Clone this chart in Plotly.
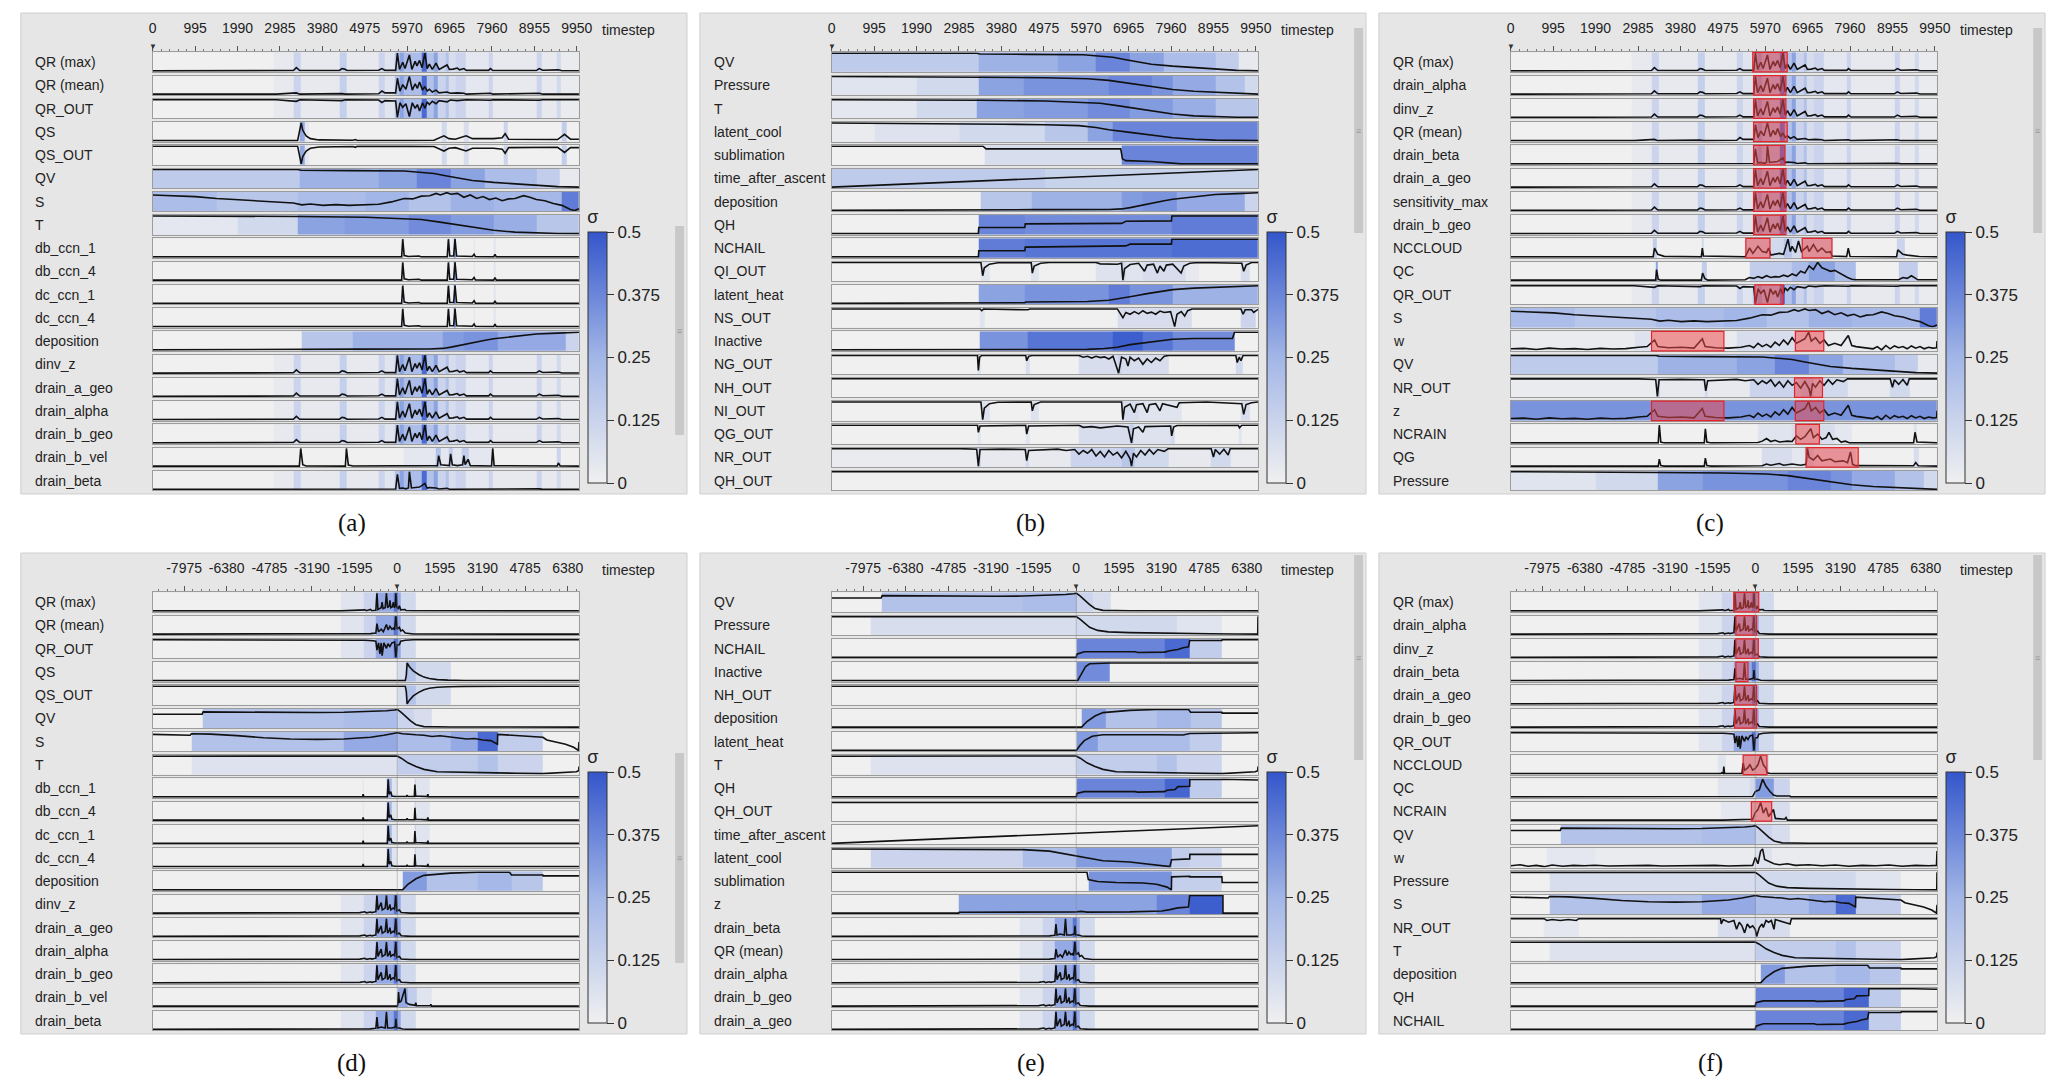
import plotly.graph_objects as go

W, H = 2067, 1091

# ---- time axes --------------------------------------------------------------
TOP_RANGE = [0, 10000]
TOP_TICKS = [0, 995, 1990, 2985, 3980, 4975, 5970, 6965, 7960, 8955, 9950]
AL_RANGE = [-9150, 6800]
AL_TICKS = [-7975, -6380, -4785, -3190, -1595, 0, 1595, 3190, 4785, 6380]

# ---- trajectories, time 0..10000 (line: (t, value), sigma: (start, sigma)) ---
QR_MAX_LINE = [(0,.02),(2850,.02),(2964,.05),(3300,.04),(3370,.2),(3450,.04),(4380,.05),(4441,.15),(4500,.12),(4560,.04),
               (5300,.06),(5377,.15),(5450,.05),(5700,.05),(5741,1.0),(5790,.1),(5866,.5),(5920,.15),(6022,.9),(6080,.1),
               (6157,.55),(6200,.3),(6261,.6),(6320,.2),(6386,1.0),(6440,.15),(6490,.4),(6560,.1),(6646,.45),(6720,.1),
               (6906,.35),(6960,.1),(7050,.12),(7145,.18),(7200,.08),(7301,.15),(7360,.05),(7880,.05),(7925,.15),(7980,.04),
               (9000,.04),(9069,.15),(9150,.06),(9516,.08),(9600,.03),(10000,.03)]
QR_MEAN_LINE = [(0,.03),(2900,.03),(3370,.1),(3450,.03),(4441,.06),(4520,.03),(5300,.05),(5377,.2),(5450,.1),(5700,.1),
                (5741,.9),(5800,.2),(5866,.55),(5940,.3),(6022,1.0),(6090,.25),(6157,.6),(6210,.35),(6261,.7),(6330,.25),
                (6386,.45),(6440,.2),(6490,.3),(6560,.15),(6646,.25),(6720,.1),(6906,.15),(6980,.08),(7145,.1),(7300,.08),
                (7360,.03),(7925,.08),(7980,.03),(9069,.08),(9150,.03),(10000,.03)]
QR_OUT_LINE = [(0,-.03),(2900,-.03),(3370,-.12),(3450,-.03),(4441,-.08),(4520,-.03),(5300,-.05),(5377,-.18),(5450,-.08),
               (5700,-.1),(5741,-1.0),(5800,-.2),(5866,-.45),(5940,-.25),(6022,-.95),(6090,-.2),(6157,-.5),(6210,-.3),
               (6261,-.65),(6330,-.2),(6386,-.5),(6440,-.15),(6490,-.3),(6560,-.12),(6646,-.25),(6720,-.08),(6906,-.15),
               (6980,-.05),(7145,-.08),(7360,-.03),(7925,-.06),(7980,-.03),(9069,-.06),(9150,-.03),(10000,-.03)]
QR_SIG = [(0,0),(2850,.03),(3300,.12),(3480,.03),(4380,.14),(4540,.03),(5300,.12),(5450,.05),(5680,.2),(5800,.3),
          (5900,.22),(6300,.45),(6420,.2),(6600,.3),(6680,.12),(6880,.2),(6950,.08),(7100,.12),(7350,.04),(7880,.12),
          (7980,.03),(9000,.12),(9130,.03),(9480,.1),(9560,.02)]
DRAIN_BETA_LINE = [(0,.02),(2900,.02),(3370,.06),(3450,.02),(4441,.05),(4520,.02),(5377,.06),(5450,.03),(5700,.04),
                   (5741,.85),(5790,.08),(5866,.1),(5940,.05),(6000,.1),(6022,1.0),(6070,.1),(6157,.12),(6261,.15),
                   (6386,.35),(6440,.08),(6490,.12),(6646,.1),(6720,.04),(6906,.08),(6960,.03),(7925,.05),(7980,.02),
                   (9069,.05),(9150,.02),(10000,.02)]
QS_LINE = [(0,.04),(3400,.04),(3484,1.0),(3520,.6),(3600,.3),(3700,.15),(3900,.08),(4700,.06),(4753,.1),(4800,.05),
           (6000,.05),(6600,.06),(6833,.3),(6950,.15),(7100,.12),(7353,.3),(7500,.15),(8000,.15),(8200,.2),(8268,.42),
           (8350,.12),(9500,.1),(9662,.38),(9800,.12),(10000,.12)]
QS_OUT_LINE = [(0,-.04),(3400,-.04),(3484,-1.0),(3520,-.6),(3600,-.3),(3700,-.15),(3900,-.08),(4700,-.06),(4753,-.1),
               (4800,-.05),(6000,-.05),(6600,-.06),(6833,-.3),(6950,-.15),(7100,-.12),(7353,-.3),(7500,-.15),(8000,-.15),
               (8200,-.2),(8268,-.42),(8350,-.12),(9500,-.1),(9662,-.38),(9800,-.12),(10000,-.12)]
QS_SIG = [(0,0),(3460,.28),(3560,.04),(3650,0),(6780,.1),(6900,0),(7300,.08),(7420,0),(8230,.12),(8320,0),(9600,.15),(9720,0)]
QV_LINE = [(0,.96),(3400,.96),(3480,.92),(4500,.92),(4600,.9),(5900,.88),(6300,.82),(6600,.75),(6900,.62),(7200,.5),
           (7500,.38),(8000,.28),(8500,.2),(9000,.12),(9500,.06),(10000,.03)]
QV_SIG = [(0,.16),(3450,.26),(5300,.3),(6200,.38),(7000,.3),(7800,.22),(9000,.15),(9550,.03)]
S_LINE = [(0,.75),(500,.72),(1000,.68),(1500,.6),(2000,.55),(2500,.48),(3000,.42),(3300,.4),(3500,.32),(3700,.36),
          (4000,.3),(4300,.33),(4600,.3),(5000,.32),(5300,.35),(5600,.45),(5900,.6),(6100,.58),(6300,.7),(6500,.72),
          (6650,.82),(6750,.75),(6900,.85),(7000,.78),(7150,.82),(7300,.65),(7450,.75),(7600,.6),(7750,.68),(7900,.55),
          (8050,.62),(8200,.5),(8350,.58),(8500,.6),(8700,.72),(8850,.65),(9000,.55),(9200,.5),(9400,.38),(9600,.3),
          (9800,.12),(9900,.08),(10000,.15)]
S_SIG = [(0,.22),(1500,.18),(3400,.22),(5000,.25),(6000,.2),(7000,.26),(8000,.24),(9600,.4)]
T_LINE = [(0,.97),(3400,.97),(3480,.94),(5000,.9),(5800,.85),(6300,.78),(6700,.65),(7100,.5),(7500,.35),(8000,.2),
          (8500,.1),(9000,.05),(9500,.03),(10000,.02)]
T_SIG = [(0,.04),(2000,.1),(3400,.3),(4500,.32),(6000,.36),(7000,.32),(8000,.27),(9000,.18)]
CCN_LINE = [(0,0),(3450,0),(3480,.03),(3520,0),(4530,0),(4560,.03),(4600,0),(5840,0),(5866,1.0),(5900,.08),(6000,.02),
            (6250,.05),(6300,0),(6910,0),(6937,1.0),(6970,.05),(7060,.05),(7093,1.0),(7130,.05),(7500,.02),(7540,.15),
            (7570,.01),(8000,0),(8030,.15),(8060,0),(10000,0)]
CCN_SIG = [(0,0),(5840,.12),(5900,0),(6910,.1),(6960,0),(7070,.35),(7120,0),(7520,.05),(7560,0),(8010,.05),(8050,0)]
DEPOSITION_LINE = [(0,0),(3500,0),(3550,.02),(4700,.02),(4750,.04),(6500,.05),(6800,.08),(7000,.15),(7200,.25),
                   (7400,.35),(7600,.45),(7800,.52),(8000,.6),(8300,.68),(8600,.76),(9000,.85),(9500,.9),(10000,.95)]
DEPOSITION_SIG = [(0,0),(3500,.18),(4700,.26),(6800,.32),(7300,.34),(8100,.28),(9700,.12)]
DRAIN_B_VEL_LINE = [(0,.02),(3440,.02),(3473,1.0),(3520,.1),(3600,.03),(4520,.02),(4545,1.0),(4590,.08),(4700,.03),
                    (5950,.03),(6000,.06),(6050,.02),(6300,.04),(6400,.03),(6680,.05),(6708,.6),(6760,.1),(6960,.05),
                    (6989,.7),(7030,.1),(7150,.05),(7270,.1),(7301,.6),(7330,.1),(7400,.4),(7450,.05),(7950,.03),
                    (7977,1.0),(8010,.05),(9490,.03),(9516,.2),(9560,.03),(10000,.02)]
DRAIN_B_VEL_SIG = [(0,0),(5900,.04),(6650,.2),(6750,.04),(6950,.15),(7030,.04),(7250,.15),(7420,.04),(7950,.08),
                   (8000,0),(9480,.12),(9560,0)]
PRESSURE_LINE = [(0,.97),(3400,.97),(3480,.93),(5000,.9),(6000,.85),(6500,.76),(7000,.6),(7500,.42),(8000,.27),
                 (8500,.18),(9000,.12),(9500,.06),(10000,.02)]
PRESSURE_SIG = [(0,.05),(2000,.1),(3450,.3),(4500,.34),(6500,.38),(7500,.34),(8000,.28),(9000,.2),(9700,.1)]
LATENT_COOL_LINE = [(0,1.0),(1000,.99),(2000,.97),(3000,.95),(4000,.93),(5000,.9),(5800,.85),(6200,.75),(6500,.62),
                    (7000,.48),(7500,.32),(8000,.18),(8500,.1),(9000,.05),(10000,.02)]
LATENT_COOL_SIG = [(0,.02),(1000,.06),(3000,.1),(5000,.18),(6000,.3),(6600,.38)]
SUBLIMATION_LINE = [(0,1.0),(3550,1.0),(3620,.85),(6780,.85),(6820,.3),(6900,.2),(7500,.15),(8000,.08),(8200,.02),(10000,.02)]
SUBLIMATION_SIG = [(0,0),(3600,.08),(6800,.38)]
TAA_LINE = [(0,0),(10000,1)]
TAA_SIG = [(0,.16),(5000,.13)]
QH_LINE = [(0,0),(3440,0),(3450,.35),(4530,.35),(4540,.55),(6800,.58),(6900,.7),(7970,.72),(7980,1.0),(10000,1.0)]
QH_SIG = [(0,0),(3440,.38),(4530,.36),(7970,.4)]
NCHAIL_LINE = [(0,0),(3440,0),(3450,.35),(4530,.35),(4540,.55),(6500,.6),(6900,.62),(7000,.72),(7970,.72),(7980,1.0),(10000,1.0)]
NCHAIL_SIG = [(0,0),(3440,.4),(4530,.42),(7970,.44)]
QI_OUT_LINE = [(0,0),(3500,0),(3542,-.75),(3580,-.3),(3700,-.1),(3900,-.02),(4680,0),(4706,-.6),(4750,-.2),(4900,-.05),
               (5100,0),(6200,0),(6300,-.08),(6700,-.1),(6800,-.05),(6831,-1.0),(6870,-.35),(7000,-.12),(7200,-.05),
               (7337,-.5),(7400,-.15),(7550,-.1),(7640,-.6),(7700,-.2),(7792,-.5),(7850,-.15),(8000,-.1),(8197,-.6),
               (8260,-.2),(8400,-.05),(8600,0),(9620,-.05),(9665,-.5),(9720,-.15),(9850,0),(10000,0)]
QI_OUT_SIG = [(0,0),(3500,.05),(3700,0),(4680,.05),(4850,0),(6200,.06),(6800,.1),(6900,.05),(7300,.08),(8300,.03),
              (8600,0),(9600,.08),(9800,0)]
LATENT_HEAT_LINE = [(0,0),(3440,0),(3460,.03),(4530,.04),(4550,.08),(5500,.09),(6000,.11),(6500,.18),(6800,.28),
                    (7100,.42),(7400,.55),(7700,.65),(8000,.78),(8500,.86),(9000,.9),(9500,.96),(10000,1.0)]
LATENT_HEAT_SIG = [(0,0),(3440,.3),(4530,.34),(6500,.4),(7000,.34),(8000,.26)]
NS_OUT_LINE = [(0,0),(3480,0),(3520,-.1),(3560,0),(4600,-.05),(4650,0),(6700,0),(6831,-.5),(6900,-.2),(7000,-.3),
               (7100,-.15),(7200,-.28),(7300,-.1),(7400,-.25),(7500,-.18),(7600,-.3),(7700,-.12),(7800,-.2),(7950,-.15),
               (8045,-1.0),(8100,-.3),(8200,-.15),(8280,-.4),(8350,-.1),(8450,0),(9600,0),(9650,-.3),(9700,-.05),
               (9850,-.05),(9900,-.2),(10000,-.02)]
NS_OUT_SIG = [(0,0),(3480,.05),(3600,0),(6700,.08),(8450,0),(9600,.12),(9950,0)]
INACTIVE_LINE = [(0,0),(3470,0),(3480,.02),(6000,.03),(6400,.08),(6700,.15),(7000,.3),(7300,.38),(7600,.5),(8000,.6),
                 (8500,.64),(9400,.65),(9450,1.0),(10000,1.0)]
INACTIVE_SIG = [(0,0),(3470,.34),(4600,.42),(6600,.48),(7300,.42),(8000,.36),(9450,0)]
NG_OUT_LINE = [(0,0),(3420,0),(3440,-.85),(3470,-.1),(3520,0),(4550,0),(4574,-.3),(4620,-.05),(4700,0),(5800,0),
               (5900,-.1),(6000,-.05),(6100,-.15),(6200,-.05),(6300,-.12),(6400,-.08),(6500,-.2),(6600,-.05),(6730,-1.0),
               (6800,-.1),(6900,-.2),(6950,-.6),(7000,-.1),(7100,-.3),(7200,-.15),(7300,-.5),(7400,-.2),(7500,-.4),
               (7600,-.15),(7700,-.3),(7800,-.05),(7900,0),(9480,0),(9513,-.4),(9560,-.1),(9600,-.3),(9650,0),(10000,0)]
NG_OUT_SIG = [(0,0),(3420,.06),(3500,0),(4550,.08),(4650,0),(5800,.08),(6700,.12),(6800,.08),(7900,0),(9480,.1),(9650,0)]
FLAT_LINE = [(0,0),(10000,0)]
ZERO_SIG = [(0,0)]
NI_OUT_LINE = [(0,0),(3500,0),(3542,-1.0),(3580,-.35),(3700,-.1),(3900,-.02),(4680,0),(4706,-.5),(4750,-.15),(4900,0),
               (6800,0),(6831,-1.0),(6870,-.3),(7000,-.12),(7100,-.6),(7150,-.15),(7300,-.1),(7400,-.6),(7450,-.15),
               (7600,-.1),(7700,-.5),(7760,-.1),(8100,-.3),(8150,-.05),(8800,0),(9300,-.05),(9620,-.1),(9665,-.7),
               (9720,-.15),(9850,-.05),(10000,0)]
NI_OUT_SIG = [(0,0),(3500,.06),(3700,0),(4680,.06),(4850,0),(6800,.08),(7200,.05),(8200,0),(9600,.08),(9800,0)]
QG_OUT_LINE = [(0,0),(3420,0),(3440,-.4),(3480,-.05),(4550,0),(4574,-.5),(4620,-.05),(5800,0),(5900,-.12),(6100,-.08),
               (6300,-.15),(6500,-.1),(6700,-.05),(6950,-.1),(7033,-1.0),(7080,-.2),(7200,-.1),(7300,-.4),(7350,-.08),
               (7950,-.05),(7975,-.6),(8020,-.1),(8100,-.02),(9540,0),(9565,-.15),(9620,0),(10000,0)]
QG_OUT_SIG = [(0,0),(3420,.05),(3500,0),(4550,.05),(4650,0),(5800,.08),(7000,.15),(7080,.06),(7950,.1),(8050,0),
              (9540,.05),(9620,0)]
NR_OUT_LINE = [(0,-.05),(1500,-.04),(2500,-.06),(3000,-.05),(3400,-.08),(3440,-1.0),(3480,-.1),(4000,-.08),(4540,-.1),
               (4574,-.7),(4620,-.15),(5000,-.1),(5300,-.08),(5500,-.15),(5700,-.1),(5800,-.35),(5900,-.15),(6000,-.3),
               (6100,-.1),(6200,-.45),(6300,-.2),(6400,-.5),(6500,-.15),(6600,-.4),(6700,-.25),(6800,-.55),(6900,-.2),
               (7000,-.6),(7033,-1.0),(7080,-.3),(7150,-.5),(7250,-.15),(7350,-.4),(7450,-.1),(7550,-.35),(7650,-.1),
               (7800,-.2),(7900,-.05),(8900,-.05),(8955,-.5),(9000,-.1),(9100,-.35),(9200,-.08),(9300,-.4),(9350,-.05),
               (10000,-.05)]
NR_OUT_SIG = [(0,.02),(3420,.12),(3500,.03),(4540,.1),(4620,.03),(5600,.12),(6800,.18),(7100,.1),(7900,.03),(8900,.1),(9350,.02)]
NCCLOUD_LINE = [(0,0),(3340,0),(3373,.5),(3450,.15),(3600,.03),(4470,0),(4494,.5),(4520,.05),(5500,0),(5600,.5),
                (5680,.2),(5800,.6),(5900,.3),(6000,.25),(6050,.5),(6100,.1),(6300,.2),(6400,.15),(6504,1.0),(6560,.3),
                (6600,.6),(6680,.25),(6750,.9),(6820,.3),(6959,.6),(7000,.3),(7100,.7),(7200,.3),(7300,.5),(7400,.25),
                (7500,.3),(7535,.05),(7880,.02),(7918,.5),(7960,.02),(9050,0),(9080,.4),(9200,.15),(9300,.1),(9580,.02),(10000,0)]
NCCLOUD_SIG = [(0,0),(3340,.15),(3420,0),(4470,.1),(4530,0),(5500,.1),(6400,.18),(6600,.1),(7550,0),(9050,.12),(9250,0)]
QC_LINE = [(0,0),(3400,0),(3420,.6),(3460,.05),(3520,0),(4470,0),(4500,.4),(4550,.1),(4620,0),(5500,.02),(5600,.15),
           (5700,.1),(5800,.2),(5900,.12),(6000,.25),(6100,.15),(6200,.2),(6300,.18),(6400,.28),(6500,.2),(6600,.35),
           (6700,.25),(6800,.5),(6900,.4),(7000,.8),(7100,.6),(7200,1.0),(7300,.7),(7400,.6),(7500,.5),(7600,.55),
           (7700,.4),(7800,.3),(7900,.15),(8000,.05),(8100,.02),(9100,.02),(9200,.15),(9300,.1),(9400,.25),(9500,.1),
           (9550,.02),(10000,.02)]
QC_SIG = [(0,0),(3400,.3),(3460,0),(4470,.15),(4600,0),(5600,.15),(6600,.22),(7000,.3),(7600,.22),(8100,0),(9100,.15),(9550,0)]
W_LINE = [(0,.15),(300,.17),(600,.12),(900,.18),(1200,.14),(1500,.16),(1800,.12),(2100,.17),(2400,.14),(2700,.16),
          (3000,.22),(3200,.25),(3373,.55),(3450,.25),(3700,.2),(4000,.22),(4300,.18),(4494,.6),(4560,.25),(4800,.2),
          (5100,.18),(5400,.22),(5600,.3),(5700,.2),(5800,.4),(5900,.25),(6000,.35),(6100,.22),(6200,.45),(6300,.3),
          (6400,.55),(6500,.35),(6600,.65),(6700,.4),(6800,.5),(6900,.6),(6989,.9),(7050,.5),(7150,.65),(7250,.4),
          (7350,.55),(7450,.3),(7600,.4),(7750,.3),(7918,.75),(8000,.3),(8100,.25),(8300,.2),(8500,.15),(8600,.25),
          (8700,.1),(8800,.3),(8900,.15),(9000,.28),(9100,.2),(9200,.25),(9300,.15),(9400,.28),(9500,.18),(9600,.25),
          (9700,.15),(9800,.22),(9900,.18),(9990,.2),(10000,.5)]
W_SIG = [(0,.02),(2900,.06),(3300,.02),(5300,.08),(6700,.05),(7400,.02)]
Z_SIG = [(0,.34)]
NCRAIN_LINE = [(0,0),(3460,0),(3485,1.0),(3520,.05),(3600,0),(4540,0),(4565,.8),(4600,.05),(4700,0),(5800,.02),(5900,.1),
               (6000,.25),(6100,.08),(6200,.15),(6300,.05),(6500,.1),(6600,.08),(6700,.4),(6800,.2),(6900,.35),(7040,.8),
               (7100,.3),(7200,.5),(7300,.2),(7400,.3),(7464,.6),(7550,.2),(7650,.25),(7750,.05),(7850,.1),(7950,0),
               (9450,0),(9484,.6),(9530,.05),(10000,0)]
NCRAIN_SIG = [(0,0),(5800,.05),(6600,.08),(7600,.04),(8000,0),(9450,.06),(9530,0)]
QG_LINE = [(0,0),(3460,0),(3485,.4),(3520,.03),(3600,0),(4540,0),(4565,.45),(4600,.03),(4700,0),(5900,.02),(6000,.12),
           (6100,.05),(6300,.15),(6400,.05),(6600,.12),(6800,.05),(6930,.1),(6960,1.0),(7000,.5),(7100,.35),(7200,.6),
           (7300,.3),(7500,.4),(7600,.25),(7800,.3),(7900,.2),(7970,.8),(8020,.1),(8100,.03),(9450,.02),(9500,.2),
           (9560,.02),(10000,0)]
QG_SIG = [(0,0),(5900,.08),(6600,.04),(6900,.12),(7100,.06),(8100,0),(9450,.08),(9560,0)]

# ---- trajectories aligned at ascent start (time -9150..6800) ---------------
AL_QR_MAX_LINE = [(-9150,.02),(-2100,.02),(-1210,.08),(-1150,.03),(-1000,.1),(-950,.03),(-800,.05),(-759,1.0),(-720,.1),
                  (-600,.2),(-565,.5),(-530,.15),(-450,.2),(-403,1.0),(-360,.2),(-300,.3),(-274,.6),(-240,.2),(-180,.25),
                  (-145,.5),(-110,.2),(-70,.3),(-48,1.0),(-10,.2),(40,.15),(81,.3),(130,.08),(290,.1),(330,.04),(700,.03),(6800,.02)]
AL_QR_SIG = [(-9150,0),(-2100,.05),(-1250,.12),(-820,.28),(-150,.42),(20,.28),(120,.1),(700,0)]
AL_QR_MEAN_LINE = [(-9150,.02),(-1300,.02),(-1000,.05),(-800,.08),(-759,.6),(-700,.15),(-600,.3),(-520,.15),(-403,.55),
                   (-340,.25),(-274,.45),(-200,.3),(-145,.35),(-100,.25),(-48,1.0),(0,.3),(81,.4),(130,.2),(200,.25),
                   (300,.08),(600,.03),(6800,.02)]
AL_QR_OUT_LINE = [(-9150,-.02),(-2000,-.02),(-1200,-.05),(-900,-.08),(-800,-.1),(-759,-.6),(-700,-.2),(-650,-.8),(-600,-.2),
                  (-565,-.9),(-500,-.2),(-403,-.5),(-350,-.25),(-274,-.4),(-200,-.2),(-100,-.15),(-48,-1.0),(0,-.3),(81,-.3),
                  (130,-.1),(300,-.05),(600,-.02),(6800,-.02)]
AL_QS_LINE = [(-9150,0),(300,0),(340,.3),(371,1.0),(450,.8),(600,.55),(800,.35),(1000,.2),(1200,.12),(1500,.06),(1900,.03),
              (2500,.01),(6800,0)]
AL_QS_OUT_LINE = [(-9150,0),(300,0),(340,-.3),(371,-1.0),(450,-.8),(600,-.55),(800,-.35),(1000,-.2),(1200,-.12),(1500,-.06),
                  (1900,-.03),(2500,-.01),(6800,0)]
AL_QS_SIG = [(-9150,0),(0,.08),(300,.2),(700,.1),(2000,0)]
AL_QV_LINE = [(-9150,.7),(-7300,.7),(-7263,.82),(-6000,.8),(-4500,.78),(-3000,.79),(-2000,.8),(-1000,.84),(-400,.88),
              (-100,.92),(0,.95),(150,.8),(300,.6),(500,.35),(700,.15),(1000,.05),(2000,.03),(6800,.02)]
AL_QV_SIG = [(-9150,0),(-7263,.2),(-2000,.22),(0,.12),(600,.08),(1300,0)]
AL_S_LINE = [(-9150,.82),(-8500,.8),(-8000,.79),(-7750,.78),(-7700,.85),(-7000,.83),(-6000,.76),(-5000,.66),(-4000,.6),
             (-3000,.58),(-2000,.6),(-1000,.68),(-500,.78),(0,.9),(200,.85),(400,.82),(700,.8),(1000,.78),(1300,.72),
             (1600,.75),(2000,.68),(2300,.66),(2600,.6),(2900,.62),(3200,.55),(3500,.52),(3750,.35),(3760,.82),(4000,.8),
             (4400,.78),(4700,.75),(5000,.7),(5450,.68),(5600,.55),(6000,.45),(6300,.35),(6600,.2),(6780,.05),(6800,.45)]
AL_S_SIG = [(-9150,0),(-7700,.2),(-2000,.28),(0,.22),(2000,.28),(3000,.45),(3760,.15),(5450,0)]
AL_T_LINE = [(-9150,.95),(-6000,.96),(-2000,.97),(0,.97),(150,.85),(400,.6),(700,.4),(1000,.25),(1500,.12),(2500,.08),
             (3500,.06),(4500,.04),(5450,.02),(6000,.06),(6700,.12),(6790,.18),(6800,.4)]
AL_T_SIG = [(-9150,0),(-7700,.06),(0,.15),(3000,.2),(3760,.12),(5450,0)]
AL_CCN_LINE = [(-9150,0),(-1300,0),(-1275,.15),(-1250,0),(-370,0),(-339,1.0),(-300,.15),(-242,.3),(-200,.05),(-100,.02),
               (340,.02),(371,.1),(400,.02),(640,.02),(662,.7),(690,.05),(1120,.02),(1146,.15),(1170,0),(6800,0)]
AL_CCN_SIG = [(-9150,0),(-1300,.05),(-1250,0),(-380,.25),(-220,.05),(0,0),(640,.15),(700,.05),(1200,0)]
AL_DEPOSITION_LINE = [(-9150,0),(200,0),(400,.3),(700,.6),(1000,.78),(1500,.85),(2000,.9),(3000,.95),(4200,.95),
                      (4277,.8),(5450,.8),(5460,.75),(6800,.75)]
AL_DEPOSITION_SIG = [(-9150,0),(200,.32),(1100,.2),(3000,.24),(4277,.18),(5450,0)]
AL_SPIKE_LINE = [(-9150,.02),(-2100,.02),(-1400,.05),(-1210,.1),(-1150,.04),(-1000,.08),(-950,.05),(-800,.1),(-759,1.0),
                 (-720,.2),(-650,.4),(-600,.6),(-560,.2),(-450,.3),(-403,1.0),(-360,.2),(-300,.35),(-274,.5),(-240,.2),
                 (-150,.3),(-100,.25),(-48,1.0),(-10,.15),(81,.2),(150,.06),(400,.05),(500,.02),(6800,.02)]
AL_DRAIN_BETA_LINE = [(-9150,.02),(-1500,.02),(-1000,.05),(-800,.08),(-759,.7),(-720,.1),(-600,.15),(-450,.1),(-403,1.0),
                      (-360,.1),(-200,.1),(-70,.15),(-48,.6),(-10,.1),(81,.1),(200,.04),(500,.02),(6800,.02)]
AL_DRAIN_B_VEL_LINE = [(-9150,0),(0,0),(20,.1),(48,.8),(80,.2),(150,.3),(290,1.0),(330,.2),(450,.1),(670,.05),(694,.2),
                       (720,.03),(1240,.02),(1259,.1),(1290,0),(6800,0)]
AL_DRAIN_B_VEL_SIG = [(-9150,0),(0,.28),(400,.15),(720,.05),(1300,0)]
AL_PRESSURE_LINE = [(-9150,.95),(-6000,.96),(-2000,.96),(0,.95),(150,.8),(300,.6),(500,.38),(800,.22),(1200,.14),(2000,.1),
                    (3000,.07),(4000,.05),(5000,.04),(6000,.03),(6790,.02),(6800,.95)]
AL_PRESSURE_SIG = [(-9150,0),(-7700,.08),(0,.1),(3760,.05),(5450,0)]
AL_NCHAIL_LINE = [(-9150,0),(0,0),(20,.18),(300,.32),(2200,.32),(2300,.28),(3300,.3),(3500,.38),(3800,.45),(4000,.55),
                  (4200,.6),(4245,.95),(5450,.95),(5460,1.0),(6800,1.0)]
AL_NCHAIL_SIG = [(-9150,0),(0,.38),(3300,.45),(4245,.15),(5450,0)]
AL_QH_LINE = [(-9150,0),(0,0),(20,.2),(300,.3),(2200,.3),(2300,.27),(3300,.3),(3400,.38),(3700,.42),(3800,.58),(4245,.6),
              (4250,.98),(5450,.98),(5460,1.0),(6800,.95)]
AL_QH_SIG = [(-9150,0),(0,.38),(3300,.46),(4245,.16),(5450,0)]
AL_INACTIVE_LINE = [(-9150,0),(50,0),(200,.4),(350,.8),(500,.95),(1259,.97),(1270,1.0),(6800,1.0)]
AL_INACTIVE_SIG = [(-9150,0),(0,.36),(1259,0)]
AL_LATENT_HEAT_LINE = [(-9150,0),(0,0),(150,.3),(300,.55),(600,.8),(1000,.88),(3000,.88),(3500,.86),(4000,.87),(4245,.95),
                       (5450,.97),(6800,1.0)]
AL_LATENT_HEAT_SIG = [(-9150,0),(0,.32),(800,.22),(4245,.15),(5450,0)]
AL_TAA_LINE = [(-9150,0),(6800,1)]
AL_ZERO_SIG = [(-9150,0)]
AL_FLAT_LINE = [(-9150,0),(6800,0)]
AL_LATENT_COOL_LINE = [(-9150,1.0),(-6000,1.0),(-4000,.99),(-2000,.96),(-1000,.88),(-500,.75),(0,.6),(500,.45),(1000,.35),
                       (2000,.28),(2500,.2),(3000,.1),(3400,.05),(3500,.02),(3567,.4),(4245,.45),(4250,.7),(6800,.7)]
AL_LATENT_COOL_SIG = [(-9150,0),(-7700,.12),(-2000,.22),(0,.32),(3567,.15),(4245,.12),(5450,0)]
AL_SUBLIMATION_LINE = [(-9150,1.0),(400,1.0),(452,.6),(800,.5),(1500,.45),(2500,.42),(3000,.35),(3400,.2),(3560,.05),
                       (3567,.75),(4245,.78),(4250,.75),(5450,.75),(5460,.45),(6800,.45)]
AL_SUBLIMATION_SIG = [(-9150,0),(452,.34),(3567,.14),(5450,0)]
AL_Z_LINE = [(-9150,0),(-4400,0),(-4380,.05),(-1000,.05),(0,.07),(200,.1),(400,.06),(2000,.07),(2800,.08),(3200,.12),
             (3500,.2),(3800,.3),(4200,.35),(4245,1.0),(5488,1.0),(5490,0),(6800,0)]
AL_Z_SIG = [(-9150,0),(-4400,.3),(3000,.38),(4245,.48),(5488,0)]
AL_NCCLOUD_LINE = [(-9150,0),(-1300,0),(-1250,.05),(-1200,0),(-1178,.4),(-1150,0),(-500,0),(-452,.6),(-400,.2),(-300,.3),
                   (-200,.5),(-100,.2),(0,.3),(100,.5),(200,1.0),(300,.5),(400,.3),(436,.05),(600,0),(6800,0)]
AL_NCCLOUD_SIG = [(-9150,0),(-1400,.05),(-1100,0),(-500,.1),(500,0)]
AL_QC_LINE = [(-9150,0),(-1400,0),(-1300,.02),(-100,.02),(0,.3),(150,.4),(274,1.0),(400,.6),(550,.3),(678,.1),(800,.05),
              (1300,.05),(1320,0),(6800,0)]
AL_QC_SIG = [(-9150,0),(-1400,.05),(-200,.1),(0,.32),(700,.12),(1300,0)]
AL_NCRAIN_LINE = [(-9150,0),(-1200,0),(-100,.05),(-10,.4),(100,.6),(200,1.0),(300,.4),(400,.7),(500,.2),(678,.6),(750,.1),
                  (1100,.05),(1150,.15),(1200,0),(6800,0)]
AL_NCRAIN_SIG = [(-9150,0),(-1300,.04),(-200,.08),(1300,0)]
AL_W_LINE = [(-9150,.2),(-8800,.25),(-8500,.18),(-8200,.22),(-7900,.16),(-7600,.24),(-7200,.18),(-6800,.22),(-6400,.2),
             (-6000,.23),(-5500,.19),(-5000,.21),(-4500,.2),(-4000,.22),(-3500,.19),(-3000,.2),(-2500,.21),(-2000,.2),
             (-1500,.22),(-1000,.19),(-500,.21),(-100,.22),(0,.6),(100,.3),(200,.9),(274,1.0),(350,.5),(500,.4),(700,.3),
             (900,.25),(1200,.3),(1500,.22),(2000,.25),(2500,.2),(3000,.24),(3500,.18),(4000,.22),(4500,.2),(5000,.24),
             (5500,.18),(6000,.22),(6500,.2),(6780,.22),(6800,.9)]
AL_W_SIG = [(-9150,0),(-7800,.04),(-6000,.02),(0,.06),(600,.02)]
AL_NR_OUT_LINE = [(-9150,0),(-7900,0),(-7800,-.1),(-7600,-.05),(-7300,-.1),(-7000,-.05),(-6700,-.1),(-6600,0),(-1300,0),
                  (-1275,-.3),(-1200,-.05),(-1000,-.2),(-800,-.1),(-700,-.6),(-600,-.2),(-500,-.4),(-400,-.8),(-300,-.3),
                  (-200,-.5),(-100,-.4),(0,-.6),(50,-1.0),(150,-.5),(250,-.3),(300,-.5),(400,-.1),(500,-.2),(600,-.1),
                  (700,-.6),(750,-.05),(1300,-.3),(1350,0),(6800,0)]
AL_NR_OUT_SIG = [(-9150,0),(-7900,.04),(-6600,0),(-1400,.08),(1300,0)]

# ---- highlighted (red) time windows ----------------------------------------
C_HIGHLIGHTS = [("QR (max)", 5677, 6485), ("drain_alpha", 5697, 6455), ("dinv_z", 5697, 6455), ("QR (mean)", 5697, 6485),
                ("drain_beta", 5697, 6434), ("drain_a_geo", 5697, 6455), ("sensitivity_max", 5697, 6455),
                ("drain_b_geo", 5697, 6455), ("NCCLOUD", 5515, 6081), ("NCCLOUD", 6838, 7535), ("QR_OUT", 5727, 6394),
                ("w", 3303, 5000), ("w", 6677, 7343), ("NR_OUT", 6657, 7313), ("z", 3303, 5000), ("z", 6677, 7343),
                ("NCRAIN", 6687, 7242), ("QG", 6929, 8152)]
F_HIGHLIGHTS = [("QR (max)", -807, 129), ("drain_alpha", -727, 48), ("dinv_z", -727, 113), ("drain_beta", -727, -274),
                ("drain_a_geo", -775, 48), ("drain_b_geo", -775, 48), ("NCCLOUD", -452, 436), ("NCRAIN", -145, 613)]

# ---- row order of every panel ----------------------------------------------
A_ROWS = ["QR (max)", "QR (mean)", "QR_OUT", "QS", "QS_OUT", "QV", "S", "T", "db_ccn_1", "db_ccn_4", "dc_ccn_1",
          "dc_ccn_4", "deposition", "dinv_z", "drain_a_geo", "drain_alpha", "drain_b_geo", "drain_b_vel", "drain_beta"]
B_ROWS = ["QV", "Pressure", "T", "latent_cool", "sublimation", "time_after_ascent", "deposition", "QH", "NCHAIL",
          "QI_OUT", "latent_heat", "NS_OUT", "Inactive", "NG_OUT", "NH_OUT", "NI_OUT", "QG_OUT", "NR_OUT", "QH_OUT"]
C_ROWS = ["QR (max)", "drain_alpha", "dinv_z", "QR (mean)", "drain_beta", "drain_a_geo", "sensitivity_max",
          "drain_b_geo", "NCCLOUD", "QC", "QR_OUT", "S", "w", "QV", "NR_OUT", "z", "NCRAIN", "QG", "Pressure"]
D_ROWS = A_ROWS
E_ROWS = ["QV", "Pressure", "NCHAIL", "Inactive", "NH_OUT", "deposition", "latent_heat", "T", "QH", "QH_OUT",
          "time_after_ascent", "latent_cool", "sublimation", "z", "drain_beta", "QR (mean)", "drain_alpha",
          "drain_b_geo", "drain_a_geo"]
F_ROWS = ["QR (max)", "drain_alpha", "dinv_z", "drain_beta", "drain_a_geo", "drain_b_geo", "QR_OUT", "NCCLOUD", "QC",
          "NCRAIN", "QV", "w", "Pressure", "S", "NR_OUT", "T", "deposition", "QH", "NCHAIL"]

TOP_VARS = {
    "QR (max)": (QR_MAX_LINE, QR_SIG), "QR (mean)": (QR_MEAN_LINE, QR_SIG), "QR_OUT": (QR_OUT_LINE, QR_SIG),
    "QS": (QS_LINE, QS_SIG), "QS_OUT": (QS_OUT_LINE, QS_SIG), "QV": (QV_LINE, QV_SIG), "S": (S_LINE, S_SIG),
    "T": (T_LINE, T_SIG), "db_ccn_1": (CCN_LINE, CCN_SIG), "db_ccn_4": (CCN_LINE, CCN_SIG),
    "dc_ccn_1": (CCN_LINE, CCN_SIG), "dc_ccn_4": (CCN_LINE, CCN_SIG), "deposition": (DEPOSITION_LINE, DEPOSITION_SIG),
    "dinv_z": (QR_MAX_LINE, QR_SIG), "drain_a_geo": (QR_MAX_LINE, QR_SIG), "drain_alpha": (QR_MAX_LINE, QR_SIG),
    "drain_b_geo": (QR_MAX_LINE, QR_SIG), "sensitivity_max": (QR_MAX_LINE, QR_SIG),
    "drain_b_vel": (DRAIN_B_VEL_LINE, DRAIN_B_VEL_SIG), "drain_beta": (DRAIN_BETA_LINE, QR_SIG),
    "Pressure": (PRESSURE_LINE, PRESSURE_SIG), "latent_cool": (LATENT_COOL_LINE, LATENT_COOL_SIG),
    "sublimation": (SUBLIMATION_LINE, SUBLIMATION_SIG), "time_after_ascent": (TAA_LINE, TAA_SIG),
    "QH": (QH_LINE, QH_SIG), "NCHAIL": (NCHAIL_LINE, NCHAIL_SIG), "QI_OUT": (QI_OUT_LINE, QI_OUT_SIG),
    "latent_heat": (LATENT_HEAT_LINE, LATENT_HEAT_SIG), "NS_OUT": (NS_OUT_LINE, NS_OUT_SIG),
    "Inactive": (INACTIVE_LINE, INACTIVE_SIG), "NG_OUT": (NG_OUT_LINE, NG_OUT_SIG), "NH_OUT": (FLAT_LINE, ZERO_SIG),
    "NI_OUT": (NI_OUT_LINE, NI_OUT_SIG), "QG_OUT": (QG_OUT_LINE, QG_OUT_SIG), "NR_OUT": (NR_OUT_LINE, NR_OUT_SIG),
    "QH_OUT": (FLAT_LINE, ZERO_SIG), "NCCLOUD": (NCCLOUD_LINE, NCCLOUD_SIG), "QC": (QC_LINE, QC_SIG),
    "w": (W_LINE, W_SIG), "z": (W_LINE, Z_SIG), "NCRAIN": (NCRAIN_LINE, NCRAIN_SIG), "QG": (QG_LINE, QG_SIG),
}
AL_VARS = {
    "QR (max)": (AL_QR_MAX_LINE, AL_QR_SIG), "QR (mean)": (AL_QR_MEAN_LINE, AL_QR_SIG),
    "QR_OUT": (AL_QR_OUT_LINE, AL_QR_SIG), "QS": (AL_QS_LINE, AL_QS_SIG), "QS_OUT": (AL_QS_OUT_LINE, AL_QS_SIG),
    "QV": (AL_QV_LINE, AL_QV_SIG), "S": (AL_S_LINE, AL_S_SIG), "T": (AL_T_LINE, AL_T_SIG),
    "db_ccn_1": (AL_CCN_LINE, AL_CCN_SIG), "db_ccn_4": (AL_CCN_LINE, AL_CCN_SIG),
    "dc_ccn_1": (AL_CCN_LINE, AL_CCN_SIG), "dc_ccn_4": (AL_CCN_LINE, AL_CCN_SIG),
    "deposition": (AL_DEPOSITION_LINE, AL_DEPOSITION_SIG), "dinv_z": (AL_SPIKE_LINE, AL_QR_SIG),
    "drain_a_geo": (AL_SPIKE_LINE, AL_QR_SIG), "drain_alpha": (AL_SPIKE_LINE, AL_QR_SIG),
    "drain_b_geo": (AL_SPIKE_LINE, AL_QR_SIG), "drain_b_vel": (AL_DRAIN_B_VEL_LINE, AL_DRAIN_B_VEL_SIG),
    "drain_beta": (AL_DRAIN_BETA_LINE, AL_QR_SIG), "Pressure": (AL_PRESSURE_LINE, AL_PRESSURE_SIG),
    "NCHAIL": (AL_NCHAIL_LINE, AL_NCHAIL_SIG), "Inactive": (AL_INACTIVE_LINE, AL_INACTIVE_SIG),
    "NH_OUT": (AL_FLAT_LINE, AL_ZERO_SIG), "latent_heat": (AL_LATENT_HEAT_LINE, AL_LATENT_HEAT_SIG),
    "QH": (AL_QH_LINE, AL_QH_SIG), "QH_OUT": (AL_FLAT_LINE, AL_ZERO_SIG), "time_after_ascent": (AL_TAA_LINE, AL_ZERO_SIG),
    "latent_cool": (AL_LATENT_COOL_LINE, AL_LATENT_COOL_SIG), "sublimation": (AL_SUBLIMATION_LINE, AL_SUBLIMATION_SIG),
    "z": (AL_Z_LINE, AL_Z_SIG), "NCCLOUD": (AL_NCCLOUD_LINE, AL_NCCLOUD_SIG), "QC": (AL_QC_LINE, AL_QC_SIG),
    "NCRAIN": (AL_NCRAIN_LINE, AL_NCRAIN_SIG), "w": (AL_W_LINE, AL_W_SIG), "NR_OUT": (AL_NR_OUT_LINE, AL_NR_OUT_SIG),
}

PANELS = [
    ("(a)", A_ROWS, TOP_VARS, TOP_RANGE, TOP_TICKS, 199, [], 17, 13, (213, 422)),
    ("(b)", B_ROWS, TOP_VARS, TOP_RANGE, TOP_TICKS, 199, [], 702, 13, (15, 220)),
    ("(c)", C_ROWS, TOP_VARS, TOP_RANGE, TOP_TICKS, 199, C_HIGHLIGHTS, 1387, 13, (15, 220)),
    ("(d)", D_ROWS, AL_VARS, AL_RANGE, AL_TICKS, 319, [], 17, 553, (200, 410)),
    ("(e)", E_ROWS, AL_VARS, AL_RANGE, AL_TICKS, 319, [], 702, 553, (2, 207)),
    ("(f)", F_ROWS, AL_VARS, AL_RANGE, AL_TICKS, 319, F_HIGHLIGHTS, 1387, 553, (2, 207)),
]

COLORSCALE = [[0, "#f0f0f0"], [0.5, "#a2b6e7"], [1, "#3456cb"]]
FONT = "Liberation Sans, Arial, sans-serif"

def px(x):
    return x / W

def py(y):
    return 1 - y / H

def label(x, y, text, size, **kw):
    d = dict(x=x, y=y, xref="paper", yref="paper", text=text, showarrow=False,
             xanchor="center", yanchor="middle", font=dict(size=size, color="#222222"))
    d.update(kw)
    return d

fig = go.Figure()
layout = {}
shapes, annotations = [], []
k = 0
PITCH, STRIP_H, FIRST = 23.25, 19.5, 39.3

for pi, (tag, rows, vars_, rng, ticks, minor, hl, left, top, thumb) in enumerate(PANELS):
    ca = "coloraxis" if pi == 0 else f"coloraxis{pi + 1}"
    # panel background and its scrollbar
    shapes.append(dict(type="rect", xref="paper", yref="paper", x0=px(left), x1=px(left + 672),
                       y0=py(top + 481), y1=py(top), fillcolor="#e6e6e6", line=dict(color="#cfcfcf", width=1),
                       layer="below"))
    shapes.append(dict(type="rect", xref="paper", yref="paper", x0=px(left + 660), x1=px(left + 669),
                       y0=py(top + thumb[1]), y1=py(top + thumb[0]), fillcolor="#c8c8c8", line=dict(width=0),
                       layer="below"))
    annotations.append(label(px(left + 664.5), py(top + (thumb[0] + thumb[1]) / 2), "≡", 9,
                             font=dict(size=9, color="#9a9a9a")))
    first_k = k + 1
    for ri, name in enumerate(rows):
        k += 1
        xa, ya = ("xaxis", "yaxis") if k == 1 else (f"xaxis{k}", f"yaxis{k}")
        xr, yr = ("x", "y") if k == 1 else (f"x{k}", f"y{k}")
        line, sig = vars_[name]
        lt = [p[0] for p in line]
        lv = [p[1] for p in line]
        lo, hi = min(lv), max(lv)
        if hi == lo:
            lo = hi - 1
        pad = 0.05 * (hi - lo)
        yrange = [lo - pad, hi + pad]
        edges = [s[0] for s in sig] + [rng[1]]
        zrow = [s[1] for s in sig]
        fig.add_trace(go.Heatmap(x=edges, y=yrange, z=[zrow], coloraxis=ca, xaxis=xr, yaxis=yr,
                                 hoverinfo="skip", zsmooth=False))
        fig.add_trace(go.Scatter(x=lt, y=lv, mode="lines", line=dict(color="#111111", width=1.6),
                                 xaxis=xr, yaxis=yr, hoverinfo="skip", showlegend=False))
        ytop = top + FIRST + ri * PITCH
        ybot = ytop + STRIP_H
        xaxis = dict(domain=[px(left + 133), px(left + 563)], range=rng, anchor=yr, showgrid=False,
                     zeroline=False, showline=True, mirror=True, linecolor="#9c9c9c", linewidth=1,
                     showticklabels=False, ticks="", fixedrange=True)
        if ri == 0:
            xaxis.update(side="top", showticklabels=True, ticks="outside", ticklen=5, tickwidth=1,
                         tickcolor="#555555", tickmode="array", tickvals=ticks, ticktext=[str(t) for t in ticks],
                         tickfont=dict(size=14, color="#222222"), ticklabelstandoff=8,
                         minor=dict(ticks="outside", ticklen=2, tickcolor="#777777", tick0=0, dtick=minor))
        layout[xa] = xaxis
        layout[ya] = dict(domain=[py(ybot), py(ytop)], range=yrange, anchor=xr, showgrid=False, zeroline=False,
                          showline=True, mirror=True, linecolor="#9c9c9c", linewidth=1, showticklabels=False,
                          fixedrange=True)
        annotations.append(label(px(left + 12), py((ytop + ybot) / 2), name, 14, xanchor="left"))
        for hname, t0, t1 in hl:
            if hname == name:
                shapes.append(dict(type="rect", xref=xr, yref=f"{yr} domain", x0=t0, x1=t1, y0=0, y1=1,
                                   fillcolor="rgba(238,72,72,0.52)", line=dict(color="#e3242b", width=1.2)))
    last_bot = top + FIRST + (len(rows) - 1) * PITCH + STRIP_H
    fx = "x" if first_k == 1 else f"x{first_k}"
    if rng[0] < 0:
        shapes.append(dict(type="line", xref=fx, yref="paper", x0=0, x1=0, y0=py(last_bot), y1=py(top + FIRST),
                           line=dict(color="rgba(130,130,130,0.45)", width=1)))
    annotations.append(dict(x=0, y=py(top + FIRST), xref=fx, yref="paper", text="▼", showarrow=False,
                            xanchor="center", yanchor="bottom", font=dict(size=8, color="#333333"), yshift=-1))
    annotations.append(label(px(left + 613), py(top + 17), "timestep", 14))
    annotations.append(label(px(left + 334), py(top + 510), tag, 25,
                             font=dict(size=25, color="#111111", family="Liberation Serif, DejaVu Serif, serif")))
    layout[ca] = dict(cmin=0, cmax=0.5, colorscale=COLORSCALE,
                      colorbar=dict(x=px(left + 572), xanchor="left", y=py(top + 332), yanchor="middle",
                                    lenmode="pixels", len=276, thicknessmode="pixels", thickness=19,
                                    xpad=0, ypad=0, outlinewidth=1, outlinecolor="#333333",
                                    ticks="outside", ticklen=7, tickcolor="#333333",
                                    tickvals=[0, 0.125, 0.25, 0.375, 0.5],
                                    ticktext=["0", "0.125", "0.25", "0.375", "0.5"],
                                    tickfont=dict(size=17, color="#222222"),
                                    title=dict(text="σ", side="top", font=dict(size=18, color="#222222"))))

fig.update_layout(**layout)
fig.update_layout(width=W, height=H, autosize=False, margin=dict(l=0, r=0, t=0, b=0),
                  paper_bgcolor="white", plot_bgcolor="#f0f0f0", showlegend=False,
                  font=dict(family=FONT, color="#222222"), shapes=shapes, annotations=annotations)

fig.write_html("out.html", config={"displayModeBar": False},
               post_script="document.body.style.margin='0px';document.body.style.overflow='hidden';")
